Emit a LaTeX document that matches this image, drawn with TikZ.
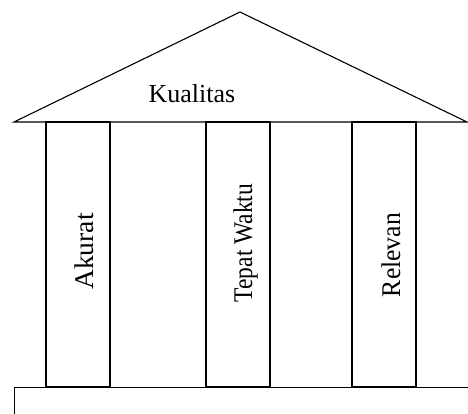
\documentclass[tikz,border=0pt]{standalone}
\usepackage{fontspec}
\setmainfont{Liberation Serif}
\begin{document}
\begin{tikzpicture}[x=1pt,y=-1pt,line width=1.1pt,
  pillar/.style={draw, minimum width=64pt, minimum height=265pt, inner sep=0pt},
  txt/.style={font=\fontsize{26}{26}\selectfont, inner sep=0pt, anchor=base},
  vtxt/.style={txt, font=\fontsize{27}{27}\selectfont, rotate=90}]
\useasboundingbox (0,0) rectangle (468,414);
\clip (0,0) rectangle (468,414);
% roof
\coordinate (apex) at (240,12);
\coordinate (eaveL) at (14,122);
\coordinate (eaveR) at (467,122);
\draw[line join=miter] (eaveL) -- (apex) -- (eaveR) -- cycle;
\node[txt] (roof) at (192,102.7) {Kualitas};
% pillars
\node[pillar] (p1) at (78,254.5) {};
\node[pillar] (p2) at (238,254.5) {};
\node[pillar] (p3) at (384,254.5) {};
\node[vtxt] (t1) at (93,251.5) {\scalebox{1.02}[1]{Akurat}};
\node[vtxt] (t2) at (252,243) {\scalebox{0.87}[1]{Tepat Waktu}};
\node[vtxt] (t3) at (400,255) {\scalebox{0.95}[1]{Relevan}};
% base
\node[draw, minimum width=480pt, minimum height=60pt, inner sep=0pt, anchor=north west] (base) at (14,387) {};
\end{tikzpicture}
\end{document}
